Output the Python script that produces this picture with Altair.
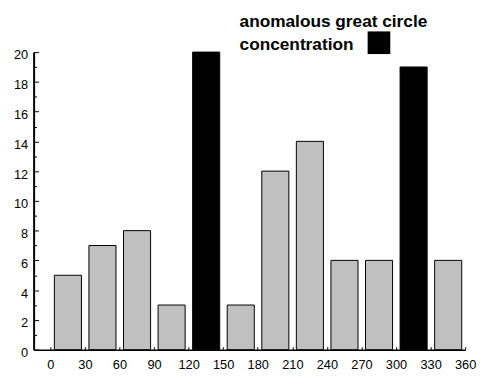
import altair as alt
import pandas as pd

# --- data ---
bin_start = [0, 30, 60, 90, 120, 150, 180, 210, 240, 270, 300, 330]
bin_end = [30, 60, 90, 120, 150, 180, 210, 240, 270, 300, 330, 360]
counts = [5, 7, 8, 3, 20, 3, 12, 14, 6, 6, 19, 6]
anomalous = [False, False, False, False, True, False, False, False, False, False, True, False]
x_ticks = [0, 30, 60, 90, 120, 150, 180, 210, 240, 270, 300, 330, 360]
y_labels = [0, 2, 4, 6, 8, 10, 12, 14, 16, 18, 20]
y_minor = list(range(0, 21))
legend_lines = ["anomalous great circle", "concentration"]

df = pd.DataFrame({
    "start": bin_start,
    "end": bin_end,
    "count": counts,
    "group": ["anomalous" if a else "normal" for a in anomalous],
})

W, H = 438, 302
FONT = "Liberation Sans"

xscale = alt.Scale(domain=[-14.5, 360], nice=False, zero=False, padding=0)
yscale = alt.Scale(domain=[0, 20], nice=False, padding=0)

base = alt.Chart(df).transform_calculate(
    x0="datum.start + 3.5", x1="datum.end - 3", zero="0"
)

bars = base.mark_bar(stroke="black", strokeWidth=1).encode(
    x=alt.X("x0:Q", scale=xscale,
            axis=alt.Axis(orient="bottom", values=x_ticks, tickSize=0, labelPadding=9,
                          labelFlush=False, labelOverlap=False,
                          labelFont=FONT, labelFontSize=13, labelColor="black",
                          domainColor="black", domainWidth=1.5, grid=False,
                          title="l", titleFont=FONT, titleFontSize=17, titleFontWeight="bold",
                          titlePadding=6, titleColor="black")),
    x2="x1:Q",
    y=alt.Y("count:Q", scale=yscale,
            axis=alt.Axis(orient="left", values=y_labels, tickSize=0, labelPadding=6,
                          labelOffset=3, labelFlush=False, labelOverlap=False,
                          labelFont=FONT, labelFontSize=13, labelColor="black",
                          domainColor="black", domainWidth=2, grid=False, title=None)),
    y2="zero:Q",
    color=alt.Color("group:N", scale=alt.Scale(domain=["normal", "anomalous"],
                                               range=["#c0c0c0", "#000000"]), legend=None),
)

ticks = base.mark_point(opacity=0).encode(
    x=alt.X("start:Q", scale=xscale,
            axis=alt.Axis(orient="top", offset=-H, values=x_ticks, tickSize=3, tickColor="black",
                          labels=False, domain=False, grid=False, title=None)),
    y=alt.Y("count:Q", scale=yscale,
            axis=alt.Axis(orient="right", offset=-W, values=y_minor,
                          tickSize={"condition": {"test": "datum.value % 2 === 0", "value": 5}, "value": 3},
                          tickColor="black", labels=False, domain=False, grid=False, title=None)),
)

one = pd.DataFrame({"t": [0]})
leg1 = alt.Chart(one).mark_text(align="left", baseline="alphabetic", font=FONT, fontSize=17.5,
                                fontWeight="bold", color="black").encode(
    x=alt.value(209), y=alt.value(-25), text=alt.value(legend_lines[0]))
leg2 = alt.Chart(one).mark_text(align="left", baseline="alphabetic", font=FONT, fontSize=17.5,
                                fontWeight="bold", color="black").encode(
    x=alt.value(209), y=alt.value(-2), text=alt.value(legend_lines[1]))
swatch = alt.Chart(one).mark_rect(color="black").encode(
    x=alt.value(339), x2=alt.value(362), y=alt.value(-21), y2=alt.value(2))

chart = alt.layer(bars, ticks, leg1, leg2, swatch).resolve_axis(
    x="independent", y="independent"
).properties(
    width=W, height=H,
    autosize=alt.AutoSizeParams(type="none"),
    padding={"left": 26, "top": 42, "right": 12, "bottom": 25},
).configure_view(stroke=None)

chart.save("out.html", embed_options={"renderer": "svg", "actions": False})
